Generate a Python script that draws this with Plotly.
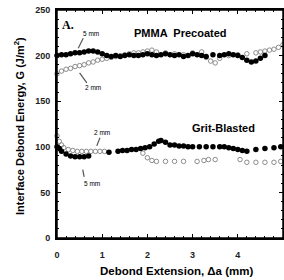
import plotly.graph_objects as go

# PMMA precoated, 5 mm (filled)
pm5_x = [0.0,0.1,0.2,0.3,0.4,0.5,0.6,0.7,0.8,0.9,1.0,1.1,1.2,1.3,1.4,1.5,1.6,1.7,1.8,1.9,
         2.0,2.1,2.2,2.3,2.4,2.5,2.6,2.7,2.8,2.9,3.0,3.1,3.2,3.3,3.45,3.6,3.7,3.8,3.9,4.0,
         4.1,4.2,4.3,4.4,4.5,4.6]
pm5_y = [200,201,201,202,203,203,204,205,205,204,202,200,199,200,199,200,201,200,200,201,
         202,201,200,201,202,201,200,201,199,200,202,201,200,199,201,200,201,202,201,200,
         198,195,193,194,197,200]
# PMMA precoated, 2 mm (open)
pm2_x = [0.0,0.1,0.2,0.3,0.4,0.5,0.6,0.7,0.8,0.9,1.0,1.1,1.2,1.3,1.4,1.5,1.6,1.7,1.8,1.9,
         2.0,2.1,2.2,2.4,2.6,2.8,3.0,3.2,3.3,3.4,3.5,3.6,3.8,4.0,4.2,4.4,4.5,4.6,4.7,4.8,4.9,5.0]
pm2_y = [180,183,185,186,188,189,190,192,193,195,196,197,198,199,200,201,202,203,203,204,
         205,206,204,203,202,201,203,204,198,194,192,197,200,201,202,203,204,205,206,207,209,212]
# Grit-blasted, 5 mm (filled)
gb5_x = [0.0,0.05,0.1,0.2,0.3,0.4,0.5,0.6,0.7,1.15,1.35,1.45,1.55,1.65,1.75,1.85,1.95,2.05,
         2.15,2.25,2.3,2.4,2.5,2.6,2.7,2.8,2.9,3.0,3.15,3.3,3.45,3.6,3.7,3.8,3.9,4.0,4.1,4.2,
         4.4,4.6,4.8,4.95]
gb5_y = [100,98,95,92,90,89,89,89,90,94,95,96,96,97,97,98,99,100,
         103,106,107,105,102,102,101,101,100,100,100,100,100,100,100,99,98,97,96,95,
         97,98,99,100]
# Grit-blasted, 2 mm (open)
gb2_x = [0.0,0.05,0.1,0.15,0.25,0.35,0.45,0.55,0.65,0.75,0.85,0.95,1.05,1.9,2.0,2.1,2.2,2.4,
         2.6,2.8,3.1,3.25,3.35,3.5,4.05,4.2,4.4,4.6,4.8,4.95]
gb2_y = [112,106,102,99,97,96,95,95,95,95,95,95,95,93,88,85,84,84,
         84,84,84,85,86,86,86,83,83,83,83,84]

fig = go.Figure()
for xs, ys, filled in [(pm2_x, pm2_y, False), (gb2_x, gb2_y, False),
                       (pm5_x, pm5_y, True), (gb5_x, gb5_y, True)]:
    if filled:
        mk = dict(size=5.5, color="black", line=dict(width=0))
    else:
        mk = dict(size=4.5, color="#8c8c8c", symbol="circle-open",
                  line=dict(width=1, color="#8c8c8c"))
    fig.add_trace(go.Scatter(x=xs, y=ys, mode="markers", marker=mk,
                             showlegend=False, hoverinfo="skip", cliponaxis=False))

FAM = "Liberation Sans, Arial"
axis_common = dict(showline=True, linecolor="black", linewidth=2, mirror="allticks",
                   ticks="inside", ticklen=4, tickwidth=1.2, tickcolor="black",
                   showgrid=False, zeroline=False, automargin=False,
                   tickfont=dict(family=FAM, size=9, color="#222", weight="bold"))
fig.update_xaxes(range=[0, 5], dtick=1, ticklabelstandoff=7,
                 minor=dict(dtick=0.2, ticks="inside", ticklen=2, tickcolor="black",
                            showgrid=False),
                 **axis_common)
fig.update_yaxes(range=[0, 250], dtick=50, ticklabelstandoff=3,
                 minor=dict(dtick=10, ticks="inside", ticklen=2, tickcolor="black",
                            showgrid=False),
                 **axis_common)

def txt(x, y, s, size=10, fam=FAM):
    fig.add_annotation(x=x, y=y, xref="x", yref="y", text=s, showarrow=False,
                       font=dict(family=fam, size=size, color="black"))

txt(0.25, 234, "<b>A.</b>", size=12, fam="Liberation Serif, Times New Roman")
txt(2.73, 225, "<b>PMMA  Precoated</b>", size=11)
txt(3.68, 121, "<b>Grit-Blasted</b>", size=11)
txt(0.76, 224, "5 mm", size=6.5)
txt(0.80, 165, "2 mm", size=6.5)
txt(1.0, 116, "2 mm", size=6.5)
txt(0.78, 60, "5 mm", size=6.5)

# leader lines
lines = [((0.58, 219), (0.47, 208)), ((0.66, 170), (0.5, 181)),
         ((0.95, 110), (0.88, 101)), ((0.57, 75), (0.6, 67))]
for (x0, y0), (x1, y1) in lines:
    fig.add_shape(type="line", x0=x0, y0=y0, x1=x1, y1=y1,
                  line=dict(color="#555", width=1.2))

# frame
fig.add_shape(type="rect", xref="paper", yref="paper", x0=0, y0=0, x1=1, y1=1,
              line=dict(color="black", width=1.5), layer="above")

fig.add_annotation(x=0.53, y=-0.145, xref="paper", yref="paper", yanchor="middle",
                   text="<b>Debond Extension, \u0394a (mm)</b>", showarrow=False,
                   font=dict(family=FAM, size=11.5, color="black"))
fig.add_annotation(x=-0.205, y=0.49, xref="paper", yref="paper",
                   text="<b>Interface Debond Energy, G (J/m<sup>2</sup>)</b>",
                   showarrow=False, textangle=-90,
                   font=dict(family=FAM, size=11, color="black"))

fig.update_layout(width=284, height=280, margin=dict(l=57, r=1, t=10, b=42, autoexpand=False),
                  plot_bgcolor="white", paper_bgcolor="white",
                  font=dict(family=FAM, size=9, color="black"))
fig.write_html("out.html", config={"displayModeBar": False},
               post_script="document.body.style.margin='0';document.body.style.overflow='hidden';")
